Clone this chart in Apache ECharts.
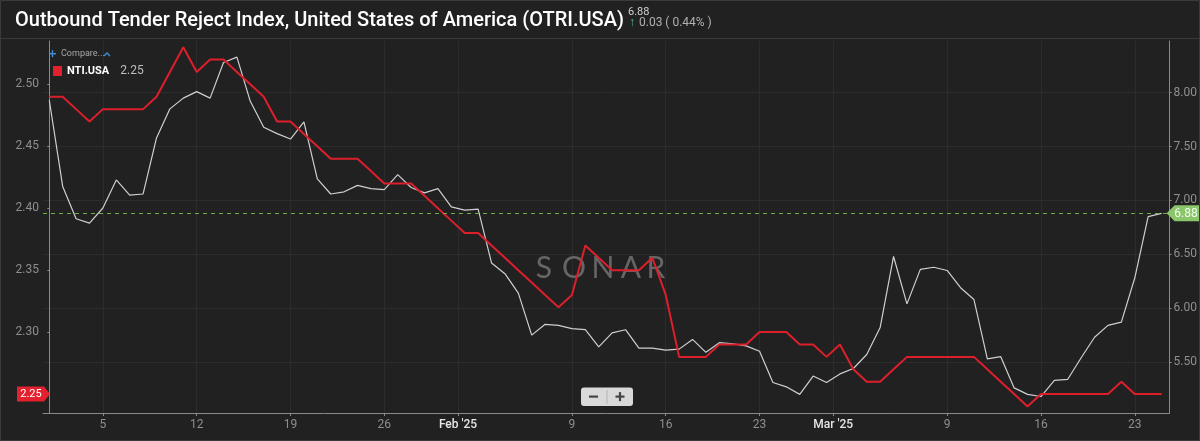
<!DOCTYPE html>
<html><head><meta charset="utf-8">
<script src="https://cdn.jsdelivr.net/npm/echarts@6/dist/echarts.min.js"></script>
<style>html,body{margin:0;padding:0;background:#212121;}#c{width:1200px;height:441px;}</style>
</head><body><div id="c"></div>
<script>
// Daily values, Jan 1 2025 (index 0) .. Mar 25 2025 (index 83)
const otriValues = [
  7.93, 7.13, 6.83, 6.79, 6.93, 7.19, 7.05, 7.06, 7.58, 7.85,
  7.95, 8.01, 7.95, 8.28, 8.33, 7.92, 7.68, 7.62, 7.57, 7.73,
  7.20, 7.06, 7.08, 7.14, 7.11, 7.10, 7.24, 7.12, 7.07, 7.11,
  6.94, 6.91, 6.92, 6.42, 6.32, 6.14, 5.75, 5.85, 5.84, 5.81,
  5.80, 5.64, 5.77, 5.80, 5.63, 5.63, 5.61, 5.62, 5.71, 5.59,
  5.68, 5.67, 5.65, 5.60, 5.31, 5.27, 5.20, 5.37, 5.31, 5.39,
  5.44, 5.57, 5.82, 6.48, 6.04, 6.36, 6.38, 6.35, 6.19, 6.08,
  5.53, 5.55, 5.26, 5.20, 5.18, 5.33, 5.34, 5.54, 5.73, 5.84,
  5.87, 6.28, 6.85, 6.88
];
const ntiValues = [
  2.49, 2.49, 2.48, 2.47, 2.48, 2.48, 2.48, 2.48, 2.49, 2.51,
  2.53, 2.51, 2.52, 2.52, 2.51, 2.50, 2.49, 2.47, 2.47, 2.46,
  2.45, 2.44, 2.44, 2.44, 2.43, 2.42, 2.42, 2.42, 2.41, 2.40,
  2.39, 2.38, 2.38, 2.37, 2.36, 2.35, 2.34, 2.33, 2.32, 2.33,
  2.37, 2.36, 2.35, 2.35, 2.35, 2.36, 2.33, 2.28, 2.28, 2.28,
  2.29, 2.29, 2.29, 2.30, 2.30, 2.30, 2.29, 2.29, 2.28, 2.29,
  2.27, 2.26, 2.26, 2.27, 2.28, 2.28, 2.28, 2.28, 2.28, 2.28,
  2.27, 2.26, 2.25, 2.24, 2.25, 2.25, 2.25, 2.25, 2.25, 2.25,
  2.26, 2.25, 2.25, 2.25
];
const tickDays   = [4, 11, 18, 25, 30.5, 39, 46, 53, 58.5, 67, 74, 81];
const tickLabels = ['5', '12', '19', '26', "Feb '25", '9', '16', '23', "Mar '25", '9', '16', '23'];
const monthLabels = ["Feb '25", "Mar '25"];
const leftTicks  = [2.30, 2.35, 2.40, 2.45, 2.50];
const rightTicks = [5.5, 6.0, 6.5, 7.0, 7.5, 8.0];
const titleText = 'Outbound Tender Reject Index, United States of America (OTRI.USA)';
const otriChange = '0.03';
const otriChangePct = '( 0.44% )';
const otriName = 'OTRI.USA';
const ntiName = 'NTI.USA';

const otriLast = otriValues[otriValues.length - 1];
const ntiLast = ntiValues[ntiValues.length - 1];

const chart = echarts.init(document.getElementById('c'));
const FONT = 'Roboto, "Noto Sans", sans-serif';

function labelFor(v) {
  let best = 0, bd = 1e9;
  tickDays.forEach((t, i) => { const d = Math.abs(t - v); if (d < bd) { bd = d; best = i; } });
  const s = tickLabels[best];
  return monthLabels.indexOf(s) >= 0 ? '{m|' + s + '}' : s;
}

chart.setOption({
  backgroundColor: '#212121',
  animation: false,
  title: {
    text: titleText, left: 10, top: 6,
    textStyle: { color: '#ffffff', fontSize: 20, fontWeight: 500, fontFamily: FONT }
  },
  legend: {
    data: [ntiName], left: 53, top: 65, padding: 0, icon: 'rect', itemWidth: 9, itemHeight: 10,
    itemGap: 0, selectedMode: false,
    formatter: n => '{n|' + n + '}{v|' + ntiLast.toFixed(2) + '}',
    textStyle: {
      fontFamily: FONT,
      rich: {
        n: { color: '#ffffff', fontSize: 11, fontWeight: 'bold', fontFamily: FONT },
        v: { color: '#bdbdbd', fontSize: 12, fontFamily: FONT, padding: [0, 0, 0, 11] }
      }
    }
  },
  grid: { left: 43, right: 28, top: 41, bottom: 28 },
  xAxis: {
    type: 'value', min: -0.47, max: 83.6,
    axisLine: { show: true, lineStyle: { color: '#8a8a8a', width: 1 } },
    axisTick: { show: true, customValues: tickDays, length: 3, lineStyle: { color: '#8a8a8a' } },
    axisLabel: {
      customValues: tickDays, formatter: labelFor, color: '#8f8f8f', fontSize: 12, margin: 6,
      fontFamily: FONT,
      rich: { m: { color: '#e6e6e6', fontSize: 12, fontWeight: 500, fontFamily: FONT } }
    },
    splitLine: { show: true, lineStyle: { color: '#2c2c2c', width: 1 } }
  },
  yAxis: [
    {
      type: 'value', position: 'left', min: 2.2347, max: 2.535,
      axisLine: { show: true, lineStyle: { color: '#8a8a8a', width: 1 } },
      axisTick: { show: true, customValues: leftTicks, length: 2, lineStyle: { color: '#8a8a8a' } },
      axisLabel: { customValues: leftTicks, formatter: v => v.toFixed(2), color: '#8f8f8f', fontSize: 12, margin: 4, fontFamily: FONT },
      splitLine: { show: false }
    },
    {
      type: 'value', position: 'right', min: 5.027, max: 8.48,
      axisLine: { show: true, lineStyle: { color: '#8a8a8a', width: 1 } },
      axisTick: { show: true, customValues: rightTicks, length: 2, lineStyle: { color: '#8a8a8a' } },
      axisLabel: { customValues: rightTicks, formatter: v => v.toFixed(2), color: '#8f8f8f', fontSize: 12, margin: 4, fontFamily: FONT },
      splitLine: { show: true, lineStyle: { color: '#2c2c2c', width: 1 } }
    }
  ],
  series: [
    {
      name: otriName, type: 'line', yAxisIndex: 1, z: 3,
      data: otriValues.map((v, i) => [i, v]),
      showSymbol: false, symbol: 'none',
      lineStyle: { color: '#cfcfcf', width: 1.2 },
      itemStyle: { color: '#cfcfcf' },
      markLine: {
        silent: true, symbol: 'none', animation: false,
        data: [{ yAxis: otriLast }],
        lineStyle: { type: [4, 4], color: '#6fae45', width: 1.1, opacity: 1 },
        label: { show: false }
      }
    },
    {
      name: ntiName, type: 'line', yAxisIndex: 0, z: 4,
      data: ntiValues.map((v, i) => [i, v]),
      showSymbol: false, symbol: 'none',
      lineStyle: { color: '#dd1f2c', width: 2 },
      itemStyle: { color: '#e3202e' }
    }
  ]
});

const yRed = chart.convertToPixel({ yAxisIndex: 0 }, ntiLast);
const yGreen = chart.convertToPixel({ yAxisIndex: 1 }, otriLast);
const xRight = chart.convertToPixel({ xAxisIndex: 0 }, 83.6);

const sonar = ['S', 'O', 'N', 'A', 'R'];
const sonarCenters = [544, 574, 603, 631, 656];
const sonarEls = sonar.map((ch, i) => ({
  type: 'text', x: sonarCenters[i], y: 268, z: 1, silent: true,
  style: { text: ch, fill: '#666666', font: 'normal 30px Lato, sans-serif', textAlign: 'center', textVerticalAlign: 'middle' }
}));

chart.setOption({
  graphic: [
    // outer frame and title separator
    { type: 'rect', shape: { x: 0.5, y: 0.5, width: 1199, height: 440 }, style: { fill: 'none', stroke: '#3a3a3a', lineWidth: 1 }, silent: true },
    { type: 'line', shape: { x1: 0, y1: 38.5, x2: 1200, y2: 38.5 }, style: { stroke: '#3a3a3a', lineWidth: 1 }, silent: true },
    // header value
    { type: 'text', x: 628, y: 7, style: { text: otriLast.toFixed(2), fill: '#d0d0d0', font: '11px ' + FONT } },
    { type: 'text', x: 629, y: 17, style: { text: '\u2191', fill: '#4cc38a', font: 'bold 12px ' + FONT } },
    { type: 'text', x: 639, y: 17, style: { text: otriChange + ' ' + otriChangePct, fill: '#b0b0b0', font: '12px ' + FONT } },
    // compare control
    { type: 'rect', shape: { x: 49, y: 53, width: 7, height: 1.4 }, style: { fill: '#3d8fe0' } },
    { type: 'rect', shape: { x: 51.8, y: 50.2, width: 1.4, height: 7 }, style: { fill: '#3d8fe0' } },
    { type: 'text', x: 61, y: 49, style: { text: 'Compare...', fill: '#a8a8a8', font: '9px ' + FONT } },
    { type: 'polyline', shape: { points: [[104, 56], [107, 53], [110, 56]] }, style: { stroke: '#3d8fe0', lineWidth: 1.3, fill: 'none' } },
    // watermark
    ...sonarEls,
    // zoom buttons
    { type: 'rect', shape: { x: 581, y: 387.5, width: 52, height: 18.5, r: 3 }, style: { fill: '#d9d9d9' }, z: 10 },
    { type: 'line', shape: { x1: 607, y1: 390, x2: 607, y2: 404 }, style: { stroke: '#b5b5b5', lineWidth: 1 }, z: 11 },
    { type: 'rect', shape: { x: 589, y: 395.5, width: 9, height: 2.2 }, style: { fill: '#444' }, z: 11 },
    { type: 'rect', shape: { x: 615.5, y: 395.5, width: 9, height: 2.2 }, style: { fill: '#444' }, z: 11 },
    { type: 'rect', shape: { x: 618.9, y: 392.1, width: 2.2, height: 9 }, style: { fill: '#444' }, z: 11 },
    // left red value tag
    { type: 'polygon', z: 20, shape: { points: [[17, yRed - 7.5], [44, yRed - 7.5], [50, yRed], [44, yRed + 7.5], [17, yRed + 7.5]] }, style: { fill: '#e3202e' } },
    { type: 'text', z: 21, x: 31, y: yRed, style: { text: ntiLast.toFixed(2), fill: '#ffffff', font: '11px ' + FONT, textAlign: 'center', textVerticalAlign: 'middle' } },
    // right green value tag
    { type: 'polygon', z: 20, shape: { points: [[xRight - 3, yGreen], [xRight + 5, yGreen - 8], [1199, yGreen - 8], [1199, yGreen + 8], [xRight + 5, yGreen + 8]] }, style: { fill: '#8bc56c' } },
    { type: 'text', z: 21, x: 1186, y: yGreen + 0.5, style: { text: otriLast.toFixed(2), fill: '#f4fbef', font: '12px ' + FONT, textAlign: 'center', textVerticalAlign: 'middle' } }
  ]
});
</script>
</body></html>
